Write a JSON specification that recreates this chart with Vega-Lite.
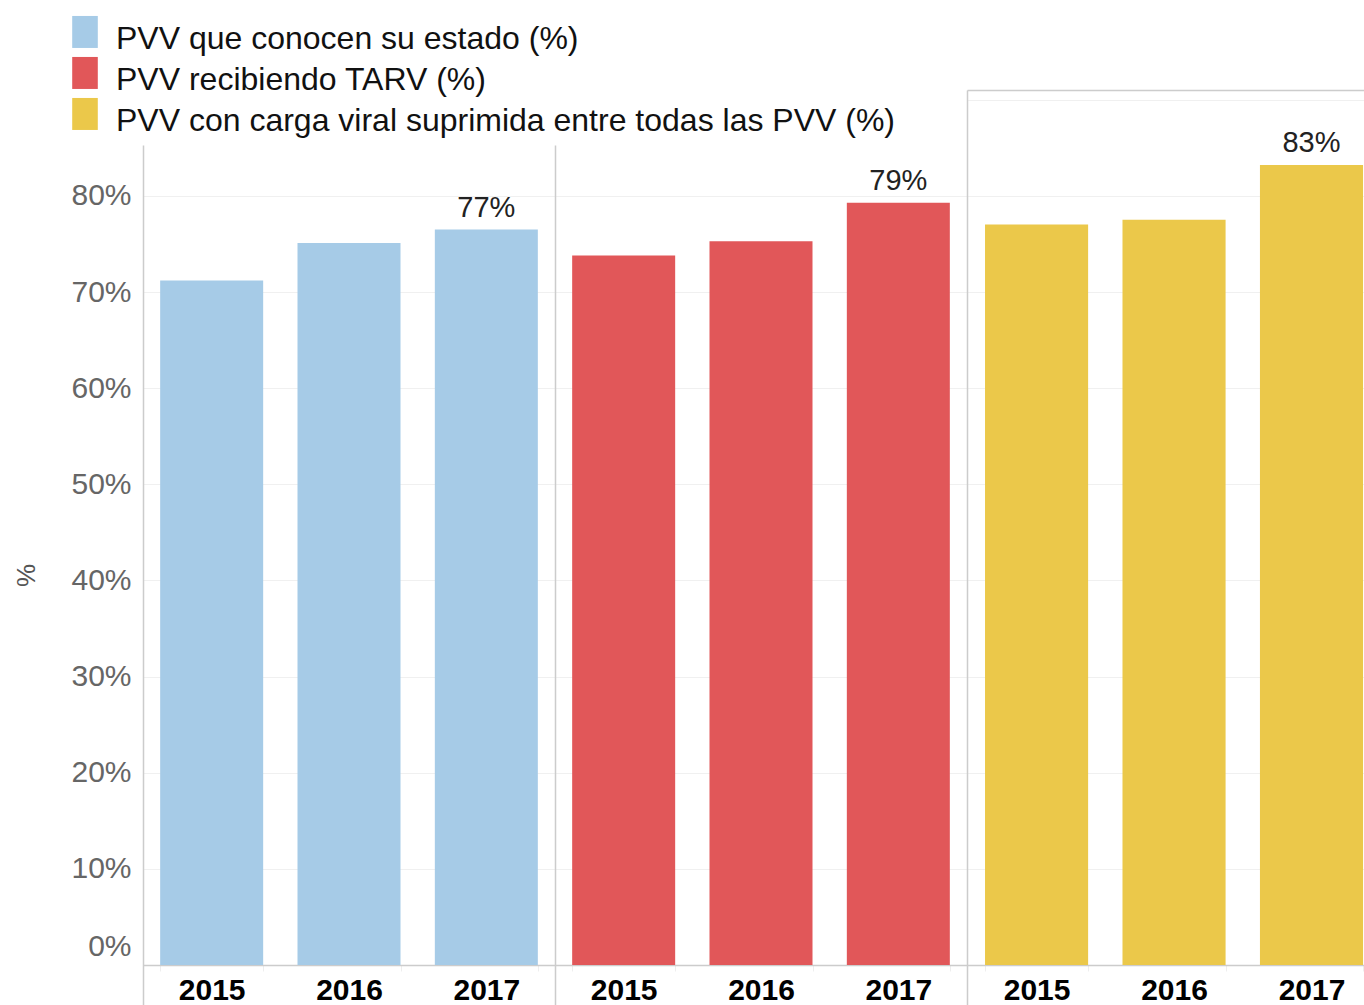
{
  "$schema": "https://vega.github.io/schema/vega-lite/v6.json",
  "padding": {"left": 13, "top": 23, "right": 0, "bottom": 0},
  "background": "white",
  "config": {
    "view": {"stroke": null},
    "font": "Liberation Sans",
    "concat": {"spacing": 0}
  },
  "data": {
    "values": [
      {"indicador": "PVV que conocen su estado (%)", "year": "2015", "value": 0.712},
      {"indicador": "PVV que conocen su estado (%)", "year": "2016", "value": 0.751},
      {"indicador": "PVV que conocen su estado (%)", "year": "2017", "value": 0.765},
      {"indicador": "PVV recibiendo TARV (%)", "year": "2015", "value": 0.738},
      {"indicador": "PVV recibiendo TARV (%)", "year": "2016", "value": 0.753},
      {"indicador": "PVV recibiendo TARV (%)", "year": "2017", "value": 0.793},
      {"indicador": "PVV con carga viral suprimida entre todas las PVV (%)", "year": "2015", "value": 0.770},
      {"indicador": "PVV con carga viral suprimida entre todas las PVV (%)", "year": "2016", "value": 0.775},
      {"indicador": "PVV con carga viral suprimida entre todas las PVV (%)", "year": "2017", "value": 0.832}
    ]
  },
  "resolve": {"scale": {"x": "independent", "y": "independent", "color": "shared"}},
  "hconcat": [
    {
      "width": 412,
      "height": 915,
      "transform": [{"filter": "datum.indicador === 'PVV que conocen su estado (%)'"}],
      "layer": [
        {
          "mark": {"type": "bar"},
          "encoding": {
            "x": {"field": "year", "type": "ordinal", "scale": {"paddingInner": 0.25, "paddingOuter": 0.125},
              "axis": {"title": null, "offset": -40, "labelAngle": 0, "labelFontSize": 30, "labelFontWeight": "bold", "labelColor": "#000", "labelPadding": 4, "domainColor": "#cccccc", "domainWidth": 1.5, "tickBand": "extent", "tickColor": "#eeeeee", "tickSize": 6}},
            "y": {"field": "value", "type": "quantitative", "scale": {"domain": [-0.0416, 0.853], "range": [915, 55], "nice": false, "zero": false},
              "axis": {"values": [0, 0.1, 0.2, 0.3, 0.4, 0.5, 0.6, 0.7, 0.8], "format": ".0%", "labelFontSize": 30, "labelColor": "#666666", "labelPadding": 12, "ticks": false, "tickSize": 0, "domainColor": "#cccccc", "domainWidth": 1.5, "gridColor": "#f0f0f0", "title": "%", "titleFontSize": 26, "titleColor": "#555555", "titleFontWeight": "normal", "titlePadding": 31,
                "labelOffset": {"condition": {"test": "datum.value === 0", "value": -19}, "value": 0}}},
            "y2": {"datum": 0},
            "color": {"field": "indicador", "type": "nominal",
              "scale": {"domain": ["PVV que conocen su estado (%)", "PVV recibiendo TARV (%)", "PVV con carga viral suprimida entre todas las PVV (%)"], "range": ["#a6cbe7", "#e15759", "#ebc84a"]},
              "legend": {"orient": "none", "legendX": -74, "legendY": -67, "title": null, "symbolType": "M-0.8,-1.44H0.8V0.56H-0.8Z", "symbolSize": 1024, "symbolStrokeWidth": 0, "symbolOpacity": 1, "labelFontSize": 32, "labelColor": "#111111", "labelOffset": 15, "labelLimit": 0, "rowPadding": 1}}
          }
        },
        {
          "transform": [{"filter": "datum.year === '2017'"}],
          "mark": {"type": "text", "baseline": "alphabetic", "dy": -13, "fontSize": 29, "color": "#222222"},
          "encoding": {
            "x": {"field": "year", "type": "ordinal"},
            "y": {"field": "value", "type": "quantitative"},
            "text": {"field": "value", "type": "quantitative", "format": ".0%"}
          }
        }
      ]
    },
    {
      "width": 412,
      "height": 915,
      "transform": [{"filter": "datum.indicador === 'PVV recibiendo TARV (%)'"}],
      "layer": [
        {
          "mark": {"type": "bar"},
          "encoding": {
            "x": {"field": "year", "type": "ordinal", "scale": {"paddingInner": 0.25, "paddingOuter": 0.125},
              "axis": {"title": null, "offset": -40, "labelAngle": 0, "labelFontSize": 30, "labelFontWeight": "bold", "labelColor": "#000", "labelPadding": 4, "domainColor": "#cccccc", "domainWidth": 1.5, "tickBand": "extent", "tickColor": "#eeeeee", "tickSize": 6}},
            "y": {"field": "value", "type": "quantitative", "scale": {"domain": [-0.0416, 0.853], "range": [915, 55], "nice": false, "zero": false},
              "axis": {"values": [0, 0.1, 0.2, 0.3, 0.4, 0.5, 0.6, 0.7, 0.8], "labels": false, "ticks": false, "tickSize": 0, "domainColor": "#cccccc", "domainWidth": 1.5, "gridColor": "#f0f0f0", "title": null}},
            "y2": {"datum": 0},
            "color": {"field": "indicador", "type": "nominal",
              "scale": {"domain": ["PVV que conocen su estado (%)", "PVV recibiendo TARV (%)", "PVV con carga viral suprimida entre todas las PVV (%)"], "range": ["#a6cbe7", "#e15759", "#ebc84a"]},
              "legend": {"orient": "none", "legendX": -74, "legendY": -67, "title": null, "symbolType": "M-0.8,-1.44H0.8V0.56H-0.8Z", "symbolSize": 1024, "symbolStrokeWidth": 0, "symbolOpacity": 1, "labelFontSize": 32, "labelColor": "#111111", "labelOffset": 15, "labelLimit": 0, "rowPadding": 1}}
          }
        },
        {
          "transform": [{"filter": "datum.year === '2017'"}],
          "mark": {"type": "text", "baseline": "alphabetic", "dy": -13, "fontSize": 29, "color": "#222222"},
          "encoding": {
            "x": {"field": "year", "type": "ordinal"},
            "y": {"field": "value", "type": "quantitative"},
            "text": {"field": "value", "type": "quantitative", "format": ".0%"}
          }
        }
      ]
    },
    {
      "width": 397,
      "height": 915,
      "transform": [{"filter": "datum.indicador === 'PVV con carga viral suprimida entre todas las PVV (%)'"}],
      "resolve": {"axis": {"x": "independent"}},
      "layer": [
        {
          "mark": {"type": "bar"},
          "encoding": {
            "x": {"field": "year", "type": "ordinal", "scale": {"paddingInner": 0.25, "paddingOuter": 0.069, "align": 0.95},
              "axis": {"title": null, "offset": -40, "labelAngle": 0, "labelFontSize": 30, "labelFontWeight": "bold", "labelColor": "#000", "labelPadding": 4, "domainColor": "#cccccc", "domainWidth": 1.5, "tickBand": "extent", "tickColor": "#eeeeee", "tickSize": 6}},
            "y": {"field": "value", "type": "quantitative", "scale": {"domain": [-0.0416, 0.910], "nice": false, "zero": false},
              "axis": {"values": [0, 0.1, 0.2, 0.3, 0.4, 0.5, 0.6, 0.7, 0.8, 0.9], "labels": false, "ticks": false, "tickSize": 0, "domainColor": "#cccccc", "domainWidth": 1.5, "gridColor": "#f0f0f0", "title": null}},
            "y2": {"datum": 0},
            "color": {"field": "indicador", "type": "nominal",
              "scale": {"domain": ["PVV que conocen su estado (%)", "PVV recibiendo TARV (%)", "PVV con carga viral suprimida entre todas las PVV (%)"], "range": ["#a6cbe7", "#e15759", "#ebc84a"]},
              "legend": {"orient": "none", "legendX": -74, "legendY": -67, "title": null, "symbolType": "M-0.8,-1.44H0.8V0.56H-0.8Z", "symbolSize": 1024, "symbolStrokeWidth": 0, "symbolOpacity": 1, "labelFontSize": 32, "labelColor": "#111111", "labelOffset": 15, "labelLimit": 0, "rowPadding": 1}}
          }
        },
        {
          "transform": [{"filter": "datum.year === '2017'"}],
          "mark": {"type": "text", "baseline": "alphabetic", "dy": -13, "fontSize": 29, "color": "#222222"},
          "encoding": {
            "x": {"field": "year", "type": "ordinal",
              "axis": {"orient": "top", "title": null, "labels": false, "ticks": false, "grid": false, "domainColor": "#cccccc", "domainWidth": 1.5}},
            "y": {"field": "value", "type": "quantitative"},
            "text": {"field": "value", "type": "quantitative", "format": ".0%"}
          }
        }
      ]
    }
  ]
}
